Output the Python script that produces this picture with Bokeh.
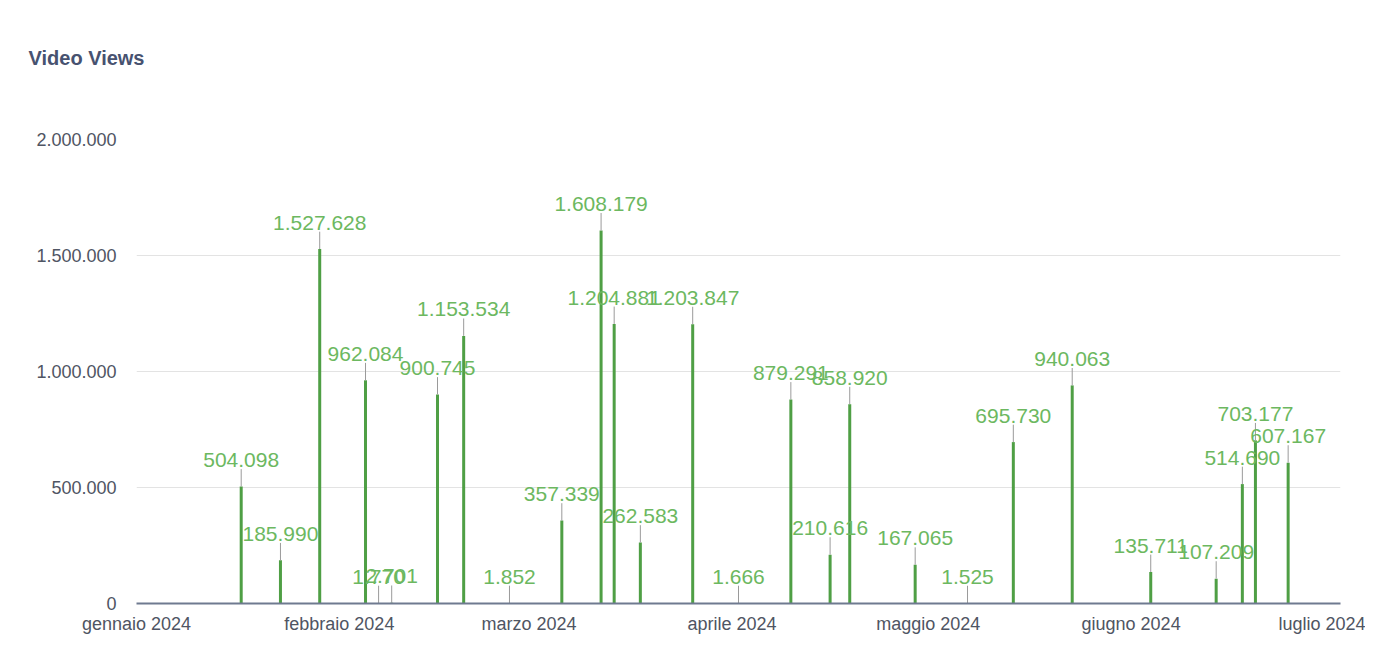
from datetime import datetime
from bokeh.plotting import figure
from bokeh.models import ColumnDataSource, FixedTicker, Range1d
from bokeh.core.properties import value
from bokeh.embed import file_html
from bokeh.resources import INLINE

# ---- data ----
dates = ["2024-01-17", "2024-01-23", "2024-01-29", "2024-02-05", "2024-02-07",
         "2024-02-09", "2024-02-16", "2024-02-20", "2024-02-27", "2024-03-06",
         "2024-03-12", "2024-03-14", "2024-03-18", "2024-03-26", "2024-04-02",
         "2024-04-10", "2024-04-16", "2024-04-19", "2024-04-29", "2024-05-07",
         "2024-05-14", "2024-05-23", "2024-06-04", "2024-06-14", "2024-06-18",
         "2024-06-20", "2024-06-25"]
views = [504098, 185990, 1527628, 962084, 1770,
         2701, 900745, 1153534, 1852, 357339,
         1608179, 1204881, 262583, 1203847, 1666,
         879291, 210616, 858920, 167065, 1525,
         695730, 940063, 135711, 107209, 514690,
         703177, 607167]
month_ticks = ["2024-01-01", "2024-02-01", "2024-03-01", "2024-04-01",
               "2024-05-01", "2024-06-01", "2024-07-01"]
month_labels = ["gennaio 2024", "febbraio 2024", "marzo 2024", "aprile 2024",
                "maggio 2024", "giugno 2024", "luglio 2024"]
y_ticks = [0, 500000, 1000000, 1500000, 2000000]
y_labels = ["0", "500.000", "1.000.000", "1.500.000", "2.000.000"]


def ms(s):
    return datetime.strptime(s, "%Y-%m-%d").timestamp() * 1000.0


def fmt(v):
    return f"{v:,}".replace(",", ".")


xs = [ms(d) for d in dates]
leader = 75000  # leader line length in data units (~17px)
src = ColumnDataSource(dict(
    x=xs, y=views, y2=[v + leader for v in views],
    lab=[fmt(v) for v in views]))

FONT = "Liberation Sans"

p = figure(width=1365, height=655, output_backend="svg", toolbar_location=None,
           x_axis_type="datetime",
           x_range=Range1d(ms("2024-01-01"), ms("2024-07-03")),
           y_range=Range1d(0, 2000000),
           min_border_left=136, min_border_right=25,
           min_border_top=139, min_border_bottom=52)
p.background_fill_color = "white"
p.border_fill_color = "white"
p.outline_line_color = None

# bars
p.segment(x0="x", y0=0, x1="x", y1="y", source=src,
          line_color="#4f9f45", line_width=3)
# leader lines
p.segment(x0="x", y0="y", x1="x", y1="y2", source=src,
          line_color="#9a9a9a", line_width=1)
# value labels
p.text(x="x", y="y2", text="lab", source=src,
       text_align="center", text_baseline="alphabetic", y_offset=-9,
       text_color="#6cb860", text_font=value(FONT), text_font_size="21px")

# axes
p.xaxis.ticker = FixedTicker(ticks=[ms(d) for d in month_ticks])
p.xaxis.major_label_overrides = {ms(d): l for d, l in zip(month_ticks, month_labels)}
p.xaxis.axis_line_color = "#6f7a90"
p.xaxis.axis_line_width = 2
p.xaxis.major_tick_line_color = None
p.xaxis.minor_tick_line_color = None
p.xaxis.major_label_text_font = FONT
p.xaxis.major_label_text_font_size = "18px"
p.xaxis.major_label_text_color = "#4f5563"
p.xaxis.major_label_standoff = 4

p.yaxis.ticker = FixedTicker(ticks=y_ticks)
p.yaxis.major_label_overrides = {t: l for t, l in zip(y_ticks, y_labels)}
p.yaxis.axis_line_color = None
p.yaxis.major_tick_line_color = None
p.yaxis.minor_tick_line_color = None
p.yaxis.major_label_text_font = FONT
p.yaxis.major_label_text_font_size = "18px"
p.yaxis.major_label_text_color = "#4f5563"
p.yaxis.major_label_standoff = 14

p.xgrid.grid_line_color = None
p.ygrid.grid_line_color = "#e3e3e3"
p.ygrid.grid_line_width = 1

p.title.text = "Video Views\n \n \n "
p.title.align = "left"
p.title.offset = -108
p.title.standoff = 10
p.title.text_font = FONT
p.title.text_font_size = "20px"
p.title.text_font_style = "bold"
p.title.text_color = "#475270"

open("out.html", "w").write(file_html(p, INLINE))
